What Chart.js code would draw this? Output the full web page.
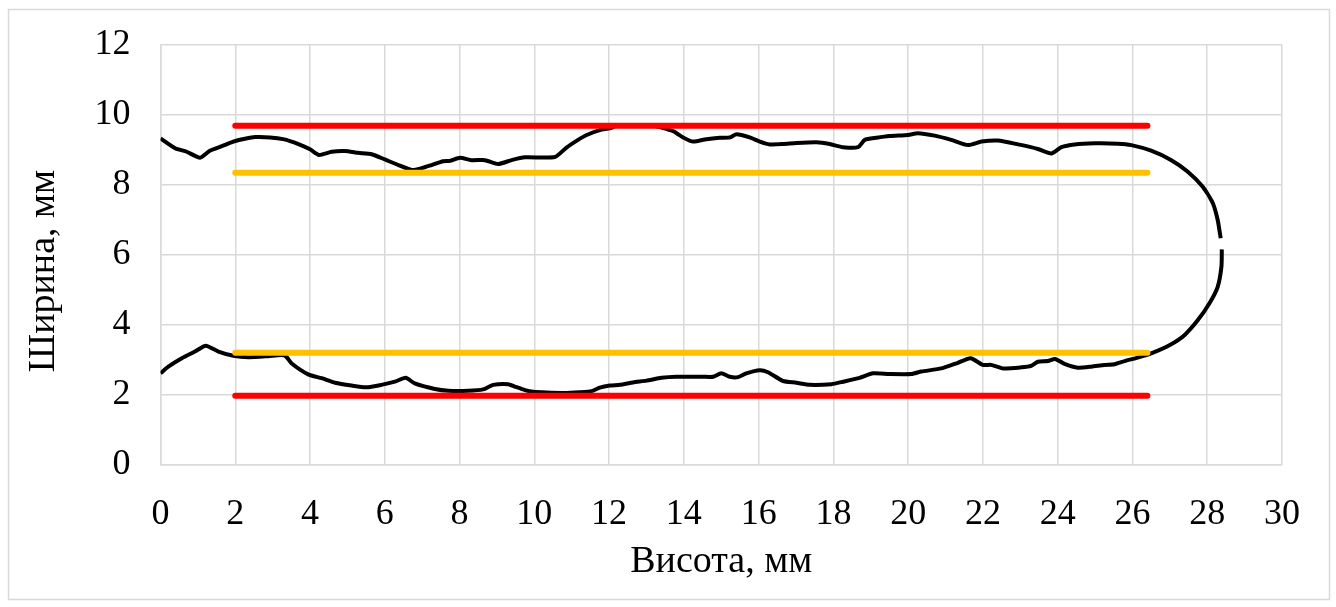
<!DOCTYPE html>
<html>
<head>
<meta charset="utf-8">
<script src="https://cdn.jsdelivr.net/npm/chart.js@4/dist/chart.umd.min.js"></script>
<style>
  html, body { margin: 0; padding: 0; background: #fff; }
  #wrap { width: 1336px; height: 607px; }
</style>
</head>
<body>
<div id="wrap"><canvas id="c" width="1336" height="607"></canvas></div>
<script>
// Upper edge of the contour, running left to right and round the cap to the tip
const upperX = [0.0, 0.39, 0.70, 1.06, 1.32, 1.64, 1.95, 2.26, 2.53, 2.93, 3.28, 3.69, 4.00, 4.24, 4.58, 4.93, 5.29, 5.65, 6.00, 6.36, 6.72, 6.98, 7.25, 7.56, 7.74, 8.01, 8.32, 8.68, 9.03, 9.39, 9.75, 10.55, 10.86, 11.17, 11.40, 11.75, 12.02, 12.20, 13.18, 13.71, 13.98, 14.25, 14.60, 14.96, 15.23, 15.41, 15.76, 16.03, 16.30, 16.65, 17.01, 17.55, 17.90, 18.26, 18.66, 18.84, 19.15, 19.50, 20.00, 20.26, 20.71, 21.15, 21.60, 21.96, 22.40, 22.94, 23.47, 23.83, 24.10, 24.45, 24.99, 25.61, 25.97, 26.50, 27.04, 27.48, 27.88, 28.15, 28.28, 28.36];
const upperY = [9.33, 9.05, 8.95, 8.78, 8.98, 9.11, 9.24, 9.32, 9.37, 9.36, 9.31, 9.17, 9.02, 8.86, 8.95, 8.97, 8.92, 8.88, 8.73, 8.57, 8.43, 8.48, 8.57, 8.68, 8.69, 8.78, 8.71, 8.71, 8.60, 8.71, 8.79, 8.80, 9.07, 9.29, 9.43, 9.57, 9.62, 9.69, 9.69, 9.54, 9.36, 9.24, 9.31, 9.35, 9.36, 9.45, 9.36, 9.24, 9.16, 9.17, 9.20, 9.22, 9.17, 9.08, 9.08, 9.29, 9.35, 9.40, 9.43, 9.48, 9.41, 9.29, 9.14, 9.24, 9.27, 9.16, 9.03, 8.90, 9.08, 9.16, 9.19, 9.18, 9.14, 8.98, 8.71, 8.38, 7.95, 7.48, 7.00, 6.48];

// Lower edge of the contour, running left to right and up the cap to the tip
const lowerX = [0.0, 0.21, 0.57, 0.92, 1.21, 1.55, 1.95, 2.35, 2.88, 3.24, 3.37, 3.51, 3.95, 4.31, 4.67, 5.11, 5.51, 5.91, 6.27, 6.56, 6.80, 7.34, 7.70, 8.23, 8.63, 8.90, 9.30, 9.48, 9.75, 9.97, 10.33, 10.77, 11.22, 11.53, 11.75, 12.02, 12.29, 12.64, 13.00, 13.40, 13.80, 14.51, 14.78, 15.00, 15.23, 15.45, 15.67, 16.03, 16.25, 16.65, 17.01, 17.37, 17.95, 18.26, 18.70, 19.06, 19.50, 20.09, 20.35, 20.89, 21.33, 21.67, 22.00, 22.22, 22.53, 23.03, 23.29, 23.47, 23.74, 23.93, 24.18, 24.54, 24.90, 25.25, 25.52, 25.79, 26.14, 26.50, 27.00, 27.39, 27.75, 28.06, 28.28, 28.38, 28.39];
const lowerY = [2.62, 2.81, 3.05, 3.24, 3.41, 3.24, 3.12, 3.08, 3.11, 3.14, 3.09, 2.90, 2.59, 2.48, 2.35, 2.27, 2.22, 2.29, 2.38, 2.49, 2.33, 2.17, 2.12, 2.12, 2.16, 2.29, 2.31, 2.24, 2.14, 2.09, 2.07, 2.06, 2.08, 2.11, 2.21, 2.27, 2.29, 2.36, 2.41, 2.49, 2.52, 2.52, 2.52, 2.62, 2.52, 2.51, 2.62, 2.71, 2.65, 2.40, 2.35, 2.29, 2.31, 2.38, 2.49, 2.62, 2.60, 2.60, 2.67, 2.76, 2.92, 3.05, 2.86, 2.86, 2.76, 2.79, 2.83, 2.95, 2.97, 3.03, 2.89, 2.78, 2.81, 2.86, 2.88, 2.97, 3.07, 3.19, 3.43, 3.71, 4.14, 4.62, 5.09, 5.67, 6.16];

// Horizontal reference levels and their extent along the height axis
const levelStart = 2.0;
const levelEnd = 26.4;
const redLevels = [9.69, 1.98];
const orangeLevels = [8.35, 3.21];

// Axis ticks and titles
const xTicks = [0, 2, 4, 6, 8, 10, 12, 14, 16, 18, 20, 22, 24, 26, 28, 30];
const yTicks = [0, 2, 4, 6, 8, 10, 12];
const xTitle = 'Висота, мм';
const yTitle = 'Ширина, мм';

const toPoints = (xs, ys) => xs.map((x, i) => ({ x: x, y: ys[i] }));
const levelLine = (v) => [{ x: levelStart, y: v }, { x: levelEnd, y: v }];

const FONT = "'Liberation Serif', 'Times New Roman', serif";
const GRID = '#d9d9d9';

const datasets = [];
redLevels.forEach(v => datasets.push({
  data: levelLine(v), borderColor: '#ff0000', borderWidth: 6,
  borderCapStyle: 'round', pointRadius: 0, showLine: true
}));
orangeLevels.forEach(v => datasets.push({
  data: levelLine(v), borderColor: '#ffc000', borderWidth: 6,
  borderCapStyle: 'round', pointRadius: 0, showLine: true
}));
datasets.push({
  data: toPoints(upperX, upperY), borderColor: '#000', borderWidth: 4,
  pointRadius: 0, showLine: true, tension: 0.2, borderJoinStyle: 'round'
});
datasets.push({
  data: toPoints(lowerX, lowerY), borderColor: '#000', borderWidth: 4,
  pointRadius: 0, showLine: true, tension: 0.2, borderJoinStyle: 'round'
});

// Thin frame round the whole chart, plus the vertical axis title
const framePlugin = {
  id: 'frame',
  beforeDraw(chart) {
    const ctx = chart.ctx;
    ctx.save();
    ctx.fillStyle = '#fff';
    ctx.fillRect(0, 0, chart.width, chart.height);
    ctx.strokeStyle = GRID;
    ctx.lineWidth = 1.5;
    ctx.strokeRect(8.5, 9.5, 1321, 590);
    ctx.restore();
  },
  afterDraw(chart) {
    const ctx = chart.ctx;
    const area = chart.chartArea;
    ctx.save();
    ctx.translate(44, (area.top + area.bottom) / 2 + 16);
    ctx.rotate(-Math.PI / 2);
    ctx.font = '38px ' + FONT;
    ctx.fillStyle = '#000';
    ctx.textAlign = 'center';
    ctx.textBaseline = 'middle';
    ctx.fillText(yTitle, 0, 0);
    ctx.restore();
  }
};

const zeroPad = (s) => { s.paddingTop = 0; s.paddingBottom = 0; s.paddingLeft = 0; s.paddingRight = 0; };

new Chart(document.getElementById('c'), {
  type: 'scatter',
  data: { datasets: datasets },
  plugins: [framePlugin],
  options: {
    responsive: false,
    animation: false,
    layout: { padding: { left: 0, right: 54, top: 45, bottom: 0 } },
    plugins: { legend: { display: false }, tooltip: { enabled: false } },
    scales: {
      x: {
        type: 'linear', min: 0, max: 30,
        afterBuildTicks: (s) => { s.ticks = xTicks.map(v => ({ value: v })); },
        afterFit: (s) => { s.height = 142; zeroPad(s); },
        grid: { color: GRID, lineWidth: 1.5, drawTicks: false },
        border: { color: GRID, width: 1.5 },
        ticks: { color: '#000', font: { family: FONT, size: 36 }, padding: 28, maxRotation: 0 },
        title: { display: true, text: xTitle, color: '#000',
                 font: { family: FONT, size: 38 }, padding: { top: 0, bottom: 22 } }
      },
      y: {
        type: 'linear', min: 0, max: 12,
        afterBuildTicks: (s) => { s.ticks = yTicks.map(v => ({ value: v })); },
        afterFit: (s) => { s.width = 160.5; zeroPad(s); },
        grid: { color: GRID, lineWidth: 1.5, drawTicks: false },
        border: { color: GRID, width: 1.5 },
        ticks: { color: '#000', font: { family: FONT, size: 36 }, padding: 30 }
      }
    }
  }
});
</script>
</body>
</html>
